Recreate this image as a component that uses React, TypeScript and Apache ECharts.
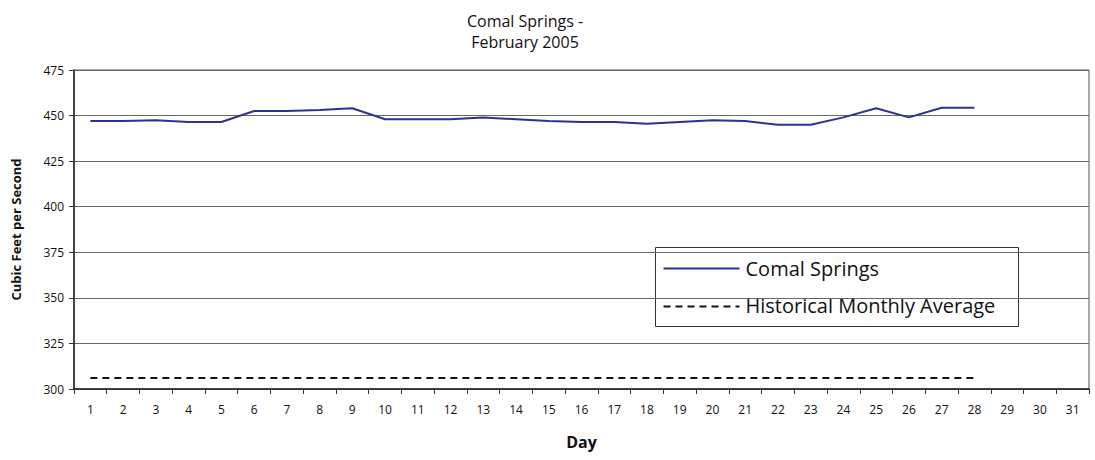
import React, { useEffect, useRef } from "react";
import * as echarts from "echarts";

const days = Array.from({ length: 31 }, (_, i) => String(i + 1));
const comalSprings = [
  447, 447, 447.5, 446.5, 446.5, 452.5, 452.5, 453, 454, 448,
  448, 448, 449, 448, 447, 446.5, 446.5, 445.5, 446.5, 447.5,
  447, 445, 445, 449, 454, 449, 454.3, 454.3,
];
const historicalAvg = [
  306, 306, 306, 306, 306, 306, 306, 306, 306, 306,
  306, 306, 306, 306, 306, 306, 306, 306, 306, 306,
  306, 306, 306, 306, 306, 306, 306, 306,
];
const seriesNames = ["Comal Springs", "Historical Monthly Average"];
const yMin = 300;
const yMax = 475;
const yStep = 25;

const FONT = "'Open Sans', 'DejaVu Sans', sans-serif";
const NAVY = "#2e3192";

export default function App() {
  const ref = useRef<HTMLDivElement>(null);
  useEffect(() => {
    if (!ref.current) return;
    const chart = echarts.init(ref.current, undefined, { renderer: "svg" });
    chart.setOption({
      animation: false,
      backgroundColor: "#ffffff",
      textStyle: { fontFamily: FONT },
      title: {
        text: "Comal Springs -\nFebruary 2005",
        left: 520,
        textAlign: "center",
        top: 5,
        textStyle: { fontFamily: FONT, fontSize: 16, fontWeight: "normal", color: "#111", lineHeight: 21 },
      },
      graphic: [
        {
          type: "group",
          left: 655,
          top: 247,
          z: 100,
          children: [
            {
              type: "rect",
              shape: { x: 0, y: 0, width: 363, height: 79 },
              style: { fill: "#fff", stroke: "#333", lineWidth: 1 },
            },
            {
              type: "line",
              shape: { x1: 8, y1: 21, x2: 84, y2: 21 },
              style: { stroke: NAVY, lineWidth: 2 },
            },
            {
              type: "text",
              x: 90,
              y: 21,
              style: { text: seriesNames[0], font: `20px ${FONT}`, fill: "#111", verticalAlign: "middle" },
            },
            {
              type: "line",
              shape: { x1: 8, y1: 59, x2: 84, y2: 59 },
              style: { stroke: "#111", lineWidth: 2, lineDash: [7, 5] },
            },
            {
              type: "text",
              x: 90,
              y: 58,
              style: { text: seriesNames[1], font: `20px ${FONT}`, fill: "#111", verticalAlign: "middle" },
            },
          ],
        },
      ],
      grid: { left: 74, right: 6, top: 70, bottom: 71, show: true, borderColor: "#555", borderWidth: 1 },
      xAxis: {
        type: "category",
        data: days,
        boundaryGap: true,
        name: "Day",
        nameLocation: "middle",
        nameGap: 45,
        nameTextStyle: { fontFamily: FONT, fontSize: 16, fontWeight: "bold", color: "#111" },
        axisLine: { lineStyle: { color: "#222", width: 1.5 } },
        axisTick: { show: true, alignWithLabel: false, length: 5, lineStyle: { color: "#333" } },
        axisLabel: { fontFamily: FONT, fontSize: 12, color: "#111", margin: 14, interval: 0 },
      },
      yAxis: {
        type: "value",
        min: yMin,
        max: yMax,
        interval: yStep,
        name: "Cubic Feet per Second",
        nameLocation: "middle",
        nameGap: 52,
        nameTextStyle: { fontFamily: FONT, fontSize: 13, fontWeight: "bold", color: "#111" },
        axisLine: { show: true, lineStyle: { color: "#222", width: 1.5 } },
        axisTick: { show: true, length: 5, lineStyle: { color: "#333" } },
        axisLabel: { fontFamily: FONT, fontSize: 12, color: "#111", margin: 10 },
        splitLine: { show: true, lineStyle: { color: "#666", width: 1 } },
      },
      series: [
        {
          name: seriesNames[0],
          type: "line",
          data: comalSprings,
          symbol: "none",
          lineStyle: { color: NAVY, width: 2 },
          itemStyle: { color: NAVY },
        },
        {
          name: seriesNames[1],
          type: "line",
          data: historicalAvg,
          symbol: "none",
          lineStyle: { color: "#111", width: 2, type: [7, 5] },
          itemStyle: { color: "#111" },
        },
      ],
    });
    return () => chart.dispose();
  }, []);
  return (
    <div
      ref={ref}
      style={{ position: "absolute", left: 0, top: 0, width: 1095, height: 460 }}
    />
  );
}
